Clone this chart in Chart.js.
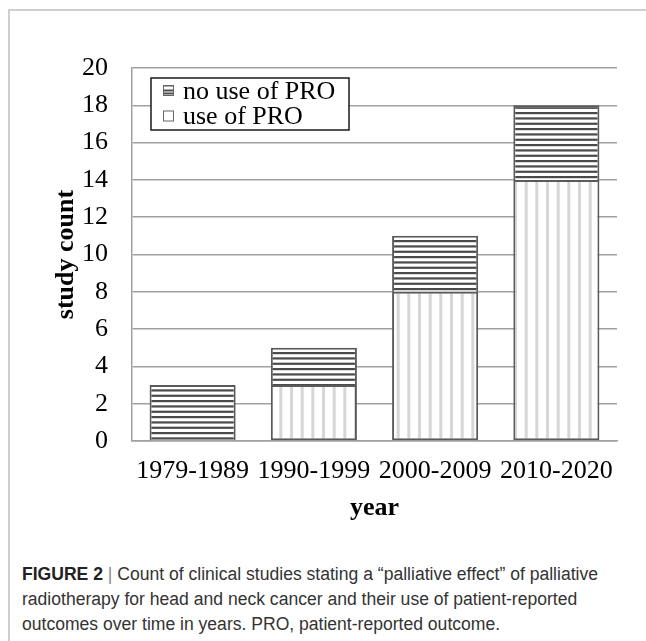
<!DOCTYPE html>
<html><head><meta charset="utf-8">
<script src="https://cdn.jsdelivr.net/npm/chart.js@4"></script>
<style>
html,body{margin:0;padding:0;background:#fff;width:646px;height:641px;overflow:hidden;}
#frame{position:absolute;left:8px;top:9px;width:640px;height:640px;border-left:2px solid #cfcfcf;border-top:2px solid #cfcfcf;}
#wrap{position:absolute;left:0;top:0;width:646px;height:540px;}
#cap{position:absolute;left:22px;top:562px;font-family:"Liberation Sans",Arial,sans-serif;font-size:18px;line-height:25px;color:#333;white-space:nowrap;transform-origin:0 0;}
#cap b{color:#222;}
#cap .sep{color:#888;}
</style></head><body>
<div id="frame"></div>
<div id="wrap"><canvas id="c" width="646" height="540"></canvas></div>
<div id="cap"><span class="ln" id="ln1"><b>FIGURE 2</b> <span class="sep">|</span> Count of clinical studies stating a “palliative effect” of palliative</span><br><span class="ln">radiotherapy for head and neck cancer and their use of patient-reported</span><br><span class="ln">outcomes over time in years. PRO, patient-reported outcome.</span></div>
<script>
const categories = ['1979-1989', '1990-1999', '2000-2009', '2010-2020'];
const usePRO = [0, 3, 8, 14];
const noUsePRO = [3, 2, 3, 4];
const seriesLabels = ['use of PRO', 'no use of PRO'];
const yMin = 0, yMax = 20, yStep = 2;

(function fitCaption() {
  const l1 = document.getElementById('ln1');
  const w = l1.getBoundingClientRect().width;
  if (w > 0) document.getElementById('cap').style.transform = 'scaleX(' + (576 / w) + ')';
})();

const cv = document.getElementById('c');
const ctx = cv.getContext('2d');

function hPattern() {
  const t = document.createElement('canvas');
  t.width = 16; t.height = 16;
  const g = t.getContext('2d');
  g.fillStyle = '#ffffff'; g.fillRect(0, 0, 16, 16);
  g.fillStyle = '#4a4a4a';
  [0, 5.33, 10.67].forEach(y => g.fillRect(0, y, 16, 2.2));
  return ctx.createPattern(t, 'repeat');
}
function vPattern() {
  const t = document.createElement('canvas');
  t.width = 32; t.height = 16;
  const g = t.getContext('2d');
  g.fillStyle = '#ffffff'; g.fillRect(0, 0, 32, 16);
  g.fillStyle = '#d6d6d6';
  [2, 12.67, 23.33].forEach(x => g.fillRect(x, 0, 3, 16));
  return ctx.createPattern(t, 'repeat');
}
const patNo = hPattern();
const patUse = vPattern();

const serif = '"Liberation Serif", "Times New Roman", serif';

const legendPlugin = {
  id: 'boxLegend',
  afterDraw(chart) {
    const c = chart.ctx;
    const x0 = 151, y0 = 78, w = 198, h = 52;
    c.save();
    c.fillStyle = '#fff';
    c.fillRect(x0, y0, w, h);
    c.strokeStyle = '#1a1a1a';
    c.lineWidth = 1.5;
    c.strokeRect(x0, y0, w, h);
    const ds = chart.data.datasets.slice().reverse();
    c.font = '26px ' + serif;
    c.textBaseline = 'alphabetic';
    c.textAlign = 'left';
    ds.forEach((d, i) => {
      const sy = 85 + i * 25.5;
      c.fillStyle = d.legendSwatch;
      c.fillRect(163, sy, 11, 11);
      c.strokeStyle = '#666';
      c.lineWidth = 1;
      c.strokeRect(163.5, sy + 0.5, 10, 10);
      c.fillStyle = '#000';
      c.fillText(d.label, 183, 99 + i * 24.5);
    });
    c.restore();
  }
};

function swatchPattern() {
  const t = document.createElement('canvas');
  t.width = 11; t.height = 11;
  const g = t.getContext('2d');
  g.fillStyle = '#fff'; g.fillRect(0, 0, 11, 11);
  g.fillStyle = '#505050';
  [1.5, 4.5, 7.5].forEach(y => g.fillRect(0, y, 11, 2));
  return ctx.createPattern(t, 'repeat');
}

new Chart(cv, {
  type: 'bar',
  data: {
    labels: categories,
    datasets: [
      { label: seriesLabels[0], data: usePRO, backgroundColor: patUse, borderColor: '#5a5a5a', borderWidth: 2, borderSkipped: false, legendSwatch: '#fff' },
      { label: seriesLabels[1], data: noUsePRO, backgroundColor: patNo, borderColor: '#5a5a5a', borderWidth: 2, borderSkipped: 'start', legendSwatch: swatchPattern() }
    ]
  },
  options: {
    responsive: false,
    animation: false,
    layout: { padding: { left: 0, right: 29, top: 68, bottom: 0 } },
    plugins: { legend: { display: false }, tooltip: { enabled: false } },
    datasets: { bar: { categoryPercentage: 1, barPercentage: 0.71 } },
    scales: {
      x: {
        stacked: true,
        grid: { display: false, drawTicks: false },
        border: { display: true, color: '#a0a0a0', width: 1.5 },
        ticks: { color: '#000', font: { family: serif, size: 26 }, padding: 15, maxRotation: 0, autoSkip: false },
        title: { display: true, text: 'year', color: '#000', font: { family: serif, size: 26, weight: 'bold' }, padding: { bottom: 16, top: 0 } },
        afterFit(s) { s.height = 540 - 441; }
      },
      y: {
        stacked: true,
        min: yMin, max: yMax,
        grid: { color: '#a0a0a0', lineWidth: 1.5, drawTicks: false },
        border: { display: true, color: '#a0a0a0', width: 1.5 },
        ticks: { stepSize: yStep, color: '#000', font: { family: serif, size: 26 }, padding: 24 },
        title: { display: true, text: 'study count', color: '#000', font: { family: serif, size: 26, weight: 'bold' }, padding: { top: 51, bottom: 0 } },
        afterFit(s) { s.width = 132; }
      }
    }
  },
  plugins: [legendPlugin]
});
</script>
</body></html>
